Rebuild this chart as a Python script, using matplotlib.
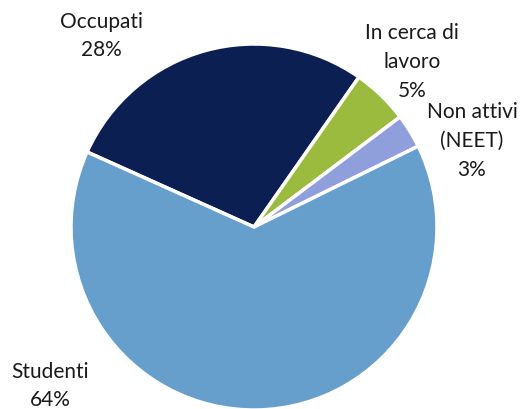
import matplotlib
matplotlib.use("Agg")
import matplotlib.pyplot as plt

# dati
categorie = ["Occupati", "In cerca di\nlavoro", "Non attivi\n(NEET)", "Studenti"]
valori = [28, 5, 3, 64]
colori = ["#0b1f52", "#9bbb3e", "#8f9fdb", "#669fcb"]

plt.rcParams["font.family"] = ["Lato", "DejaVu Sans"]

fig = plt.figure(figsize=(5.21, 4.10), dpi=100)
ax = fig.add_axes([0, 0, 1, 1])

ax.pie(valori, colors=colori, startangle=155.8, counterclock=False,
       center=(254, 182), radius=183,
       wedgeprops=dict(edgecolor="white", linewidth=2.5))

# pie() reimposta i limiti, quindi li fisso dopo
ax.set_xlim(0, 521)
ax.set_ylim(0, 410)
ax.set_aspect("equal")
ax.axis("off")

# posizioni delle etichette (pixel)
pos_etichette = [(101, 374), (412, 348), (472, 269), (50, 24)]
for nome, v, (x, y) in zip(categorie, valori, pos_etichette):
    ax.text(x, y, f"{nome}\n{v}%", ha="center", va="center",
            fontsize=15, linespacing=1.55, color="#1a1a1a")

fig.savefig("out.png", dpi=100)
